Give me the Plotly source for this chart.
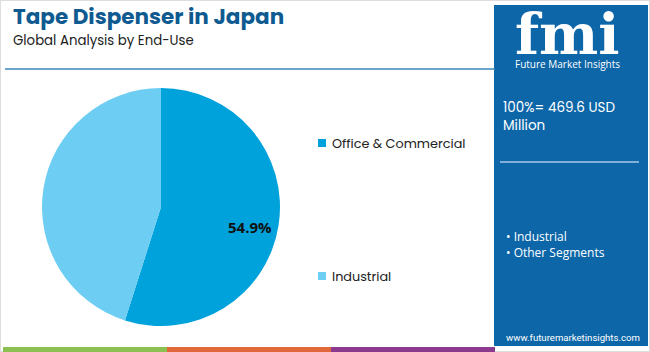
import math
import plotly.graph_objects as go

# ---- data ----
segments = ["Office & Commercial", "Industrial"]
shares = [54.9, 45.1]
slice_labels = ["54.9%", ""]
slice_colors = ["#00a2dc", "#6dcdf3"]
title_text = "Tape Dispenser in Japan"
subtitle_text = "Global Analysis by End-Use"
total_text = "100%= 469.6 USD<br>Million"
bullet_items = ["Industrial", "Other Segments"]
website = "www.futuremarketinsights.com"
stripe_colors = ["#8cc152", "#e0683a", "#8b3a8e"]

W, H = 650, 352
def px(x):
    return x / W
def py(y):
    return 1 - y / H

# pie geometry (pixels)
pie_x0, pie_x1, pie_top, pie_bot = 42, 280, 88, 326

fig = go.Figure()
fig.add_trace(go.Pie(
    labels=segments, values=shares,
    textinfo="none",
    marker=dict(colors=slice_colors, line=dict(width=0)),
    sort=False, direction="clockwise", rotation=0,
    domain=dict(x=[px(pie_x0), px(pie_x1)], y=[py(pie_bot), py(pie_top)]),
    showlegend=False, hoverinfo="label+percent",
))

shapes = []
annotations = []

# slice label placed at the slice's mid-angle (clockwise from 12 o'clock)
cx, cy = (pie_x0 + pie_x1) / 2, (pie_top + pie_bot) / 2
R = (pie_x1 - pie_x0) / 2
total = sum(shares)
start = 0.0
for val, lab in zip(shares, slice_labels):
    mid = (start + val / 2) / total * 2 * math.pi
    start += val
    if not lab:
        continue
    lx = cx + 0.76 * R * math.sin(mid)
    ly = cy - 0.76 * R * math.cos(mid)
    annotations.append(dict(text="<b>" + lab + "</b>", xref="paper", yref="paper", x=px(lx), y=py(ly),
                            xanchor="center", yanchor="middle", showarrow=False, yshift=-6,
                            font=dict(family="Open Sans", size=15, color="#111111")))

# frame
shapes.append(dict(type="rect", xref="paper", yref="paper", x0=0, x1=1, y0=0, y1=1,
                   line=dict(color="#dddddd", width=2), fillcolor="rgba(0,0,0,0)", layer="below"))
# title underline
shapes.append(dict(type="line", xref="paper", yref="paper", x0=px(5), x1=px(495), y0=py(69), y1=py(69),
                   line=dict(color="#3a88b8", width=1.5)))
# right panel
shapes.append(dict(type="rect", xref="paper", yref="paper", x0=px(494), x1=px(648), y0=py(346), y1=py(5),
                   line=dict(width=0), fillcolor="#0d66a8", layer="below"))
# panel separator
shapes.append(dict(type="line", xref="paper", yref="paper", x0=px(500), x1=px(639), y0=py(162), y1=py(162),
                   line=dict(color="#a8cbe8", width=1.5)))
# bottom stripes
for i, c in enumerate(stripe_colors):
    shapes.append(dict(type="rect", xref="paper", yref="paper", x0=px(3 + 164 * i), x1=px(3 + 164 * (i + 1)),
                       y0=0, y1=py(347), line=dict(width=0), fillcolor=c))

# title / subtitle
annotations.append(dict(text="<b>" + title_text + "</b>", xref="paper", yref="paper", x=px(11), y=py(16.5),
                        xanchor="left", yanchor="middle", showarrow=False,
                        font=dict(family="Poppins, Open Sans", size=21.5, color="#0f5b91")))
annotations.append(dict(text=subtitle_text, xref="paper", yref="paper", x=px(11), y=py(40.5),
                        xanchor="left", yanchor="middle", showarrow=False,
                        font=dict(family="Poppins, Open Sans", size=13.3, color="#222222")))

# legend (manual)
legend_y = [143, 276]
for name, col, ly in zip(segments, slice_colors, legend_y):
    shapes.append(dict(type="rect", xref="paper", yref="paper", x0=px(318), x1=px(326), y0=py(ly + 4), y1=py(ly - 4),
                       line=dict(width=0), fillcolor=col))
    annotations.append(dict(text=name, xref="paper", yref="paper", x=px(330), y=py(ly),
                            xanchor="left", yanchor="middle", showarrow=False,
                            font=dict(family="Poppins, Open Sans", size=12.8, color="#222222")))

# logo
annotations.append(dict(text="<b>fmi</b>", xref="paper", yref="paper", x=px(567), y=py(34),
                        xanchor="center", yanchor="middle", showarrow=False,
                        font=dict(family="DejaVu Serif", size=56, color="#ffffff")))
for yy in range(18, 58, 4):
    shapes.append(dict(type="line", xref="paper", yref="paper", x0=px(505), x1=px(630), y0=py(yy), y1=py(yy),
                       line=dict(color="#0d66a8", width=1)))
annotations.append(dict(text="Future Market Insights", xref="paper", yref="paper", x=px(567), y=py(64),
                        xanchor="center", yanchor="middle", showarrow=False,
                        font=dict(family="Open Sans", size=10, color="#ffffff")))

# panel texts
annotations.append(dict(text=total_text, xref="paper", yref="paper", x=px(501), y=py(116),
                        xanchor="left", yanchor="middle", align="left", showarrow=False,
                        font=dict(family="Poppins, Open Sans", size=13.5, color="#ffffff")))
for i, item in enumerate(bullet_items):
    annotations.append(dict(text="• " + item, xref="paper", yref="paper", x=px(504), y=py(236 + 16 * i),
                            xanchor="left", yanchor="middle", showarrow=False,
                            font=dict(family="Open Sans", size=12, color="#ffffff")))
annotations.append(dict(text=website, xref="paper", yref="paper", x=px(504), y=py(337),
                        xanchor="left", yanchor="middle", showarrow=False,
                        font=dict(family="Roboto", size=9.6, color="#ffffff")))

fig.update_layout(width=W, height=H, autosize=False, margin=dict(l=0, r=0, t=0, b=0),
                  paper_bgcolor="#ffffff", plot_bgcolor="#ffffff",
                  shapes=shapes, annotations=annotations)
fig.write_html("out.html")
